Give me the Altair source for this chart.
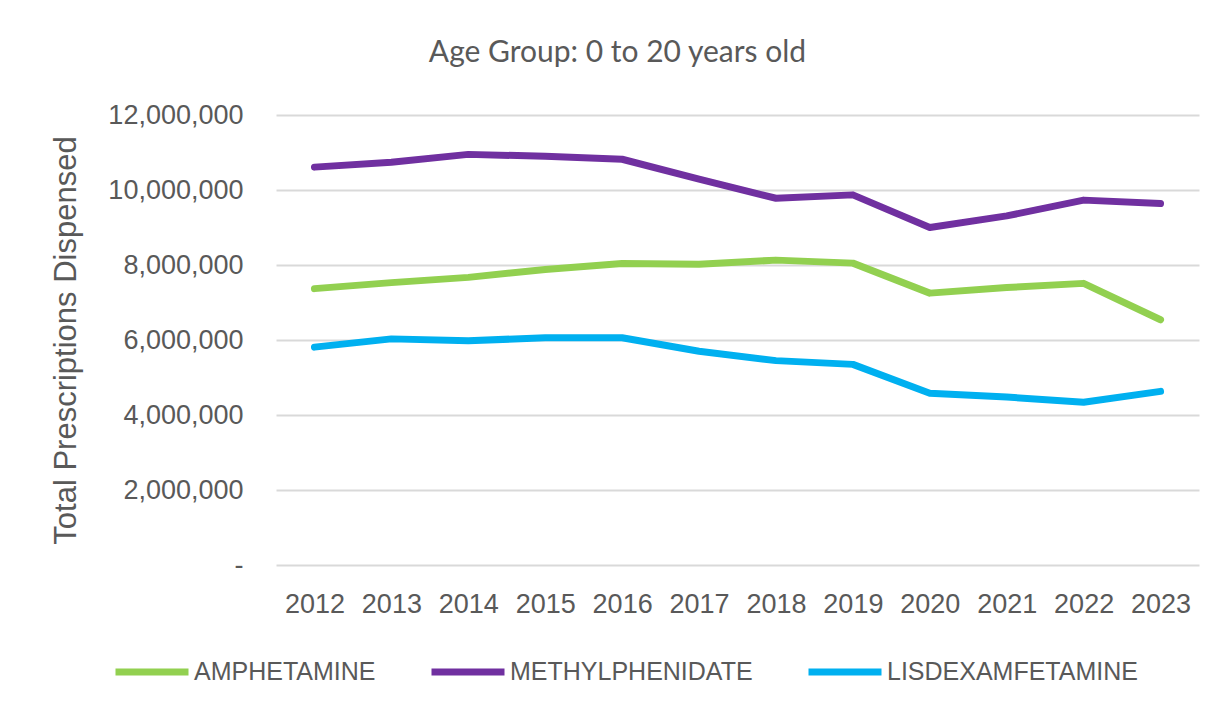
import altair as alt
import pandas as pd

years = [str(y) for y in range(2012, 2024)]
amphetamine = [7.37, 7.53, 7.67, 7.88, 8.04, 8.02, 8.13, 8.05, 7.25, 7.40, 7.51, 6.54]
methylphenidate = [10.61, 10.74, 10.95, 10.90, 10.82, 10.29, 9.78, 9.87, 9.00, 9.31, 9.73, 9.64]
lisdexamfetamine = [5.81, 6.03, 5.98, 6.06, 6.06, 5.70, 5.45, 5.35, 4.58, 4.48, 4.34, 4.63]
series_names = ["AMPHETAMINE", "METHYLPHENIDATE", "LISDEXAMFETAMINE"]
series_colors = ["#92D050", "#7030A0", "#00B0F0"]
y_ticks = [0, 2000000, 4000000, 6000000, 8000000, 10000000, 12000000]

rows = []
for name, vals in zip(series_names, [amphetamine, methylphenidate, lisdexamfetamine]):
    for yr, v in zip(years, vals):
        rows.append({"year": yr, "drug": name, "value": v * 1_000_000})
df = pd.DataFrame(rows)

TEXT = "#595959"

chart = (
    alt.Chart(df)
    .mark_line(strokeWidth=7, strokeCap="round", strokeJoin="round")
    .encode(
        x=alt.X(
            "year:O",
            sort=years,
            scale=alt.Scale(type="point", padding=0.5),
            axis=alt.Axis(
                title=None, labelAngle=0, ticks=False, domain=False, grid=False,
                labelPadding=26, labelFontSize=27, labelColor=TEXT,
                labelFont="Liberation Sans",
            ),
        ),
        y=alt.Y(
            "value:Q",
            scale=alt.Scale(domain=[0, 12000000], nice=False),
            axis=alt.Axis(
                values=y_ticks,
                labelExpr="datum.value == 0 ? '-\u00a0\u00a0' : format(datum.value, ',')",
                title="Total Prescriptions Dispensed",
                titleFont="Liberation Sans", titleFontSize=31, titleFontWeight="normal",
                titleColor=TEXT, titleX=-210, titleY=225, titleAngle=270,
                titleAlign="center", titleBaseline="middle",
                ticks=False, domain=False, labelPadding=33,
                labelFontSize=27, labelColor=TEXT, labelFont="Liberation Sans",
                grid=True, gridColor="#d9d9d9", gridWidth=2,
            ),
        ),
        color=alt.Color(
            "drug:N",
            scale=alt.Scale(domain=series_names, range=series_colors),
            sort=series_names,
            legend=alt.Legend(
                title=None, orient="none", direction="horizontal",
                legendX=-164, legendY=517,
                symbolType="stroke", symbolSize=5329, symbolStrokeWidth=7,
                labelFont="Liberation Sans", labelFontSize=25, labelColor=TEXT,
                labelLimit=0, labelOffset=2, columnPadding=41, padding=0,
            ),
        ),
    )
    .properties(
        width=923,
        height=450,
        title=alt.Title(
            "Age Group: 0 to 20 years old",
            font="Lato", fontSize=30, fontWeight="normal", color=TEXT,
            anchor="middle", dx=-120, offset=33,
        ),
        autosize=alt.AutoSizeParams(type="none"),
        padding={"left": 268, "top": 107, "right": 17, "bottom": 130},
        background="white",
    )
    .configure_view(stroke=None)
)

chart.save("out.html", embed_options={"renderer": "svg", "actions": False})
